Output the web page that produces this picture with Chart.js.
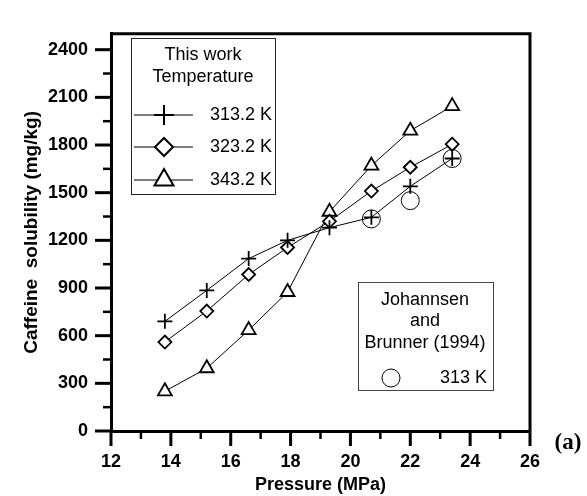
<!DOCTYPE html>
<html>
<head>
<meta charset="utf-8">
<script src="https://cdn.jsdelivr.net/npm/chart.js@4.4.1/dist/chart.umd.min.js"></script>
<style>
  body { margin: 0; background: #fff; }
  #wrap { width: 587px; height: 496px; }
</style>
</head>
<body>
<div id="wrap"><canvas id="grafica" width="587" height="496"></canvas></div>
<script>
// pressure (MPa) for this work
const presion = [13.8, 15.2, 16.6, 17.9, 19.3, 20.7, 22.0, 23.4];
// caffeine solubility (mg/kg)
const sol313 = [690, 885, 1085, 1200, 1280, 1345, 1540, 1715];
const sol323 = [560, 755, 985, 1155, 1320, 1510, 1660, 1805];
const sol343 = [250, 395, 635, 875, 1380, 1670, 1890, 2045];
// Johannsen and Brunner (1994), 313 K
const presionJB = [20.7, 22.0, 23.4];
const solJB = [1335, 1450, 1715];

const etiquetas = ["313.2 K", "323.2 K", "343.2 K"];
const ticksX = [12, 14, 16, 18, 20, 22, 24, 26];
const ticksY = [0, 300, 600, 900, 1200, 1500, 1800, 2100, 2400];

const FONT = "'Liberation Sans', Arial, sans-serif";

function puntos(xs, ys) {
    return xs.map((x, i) => ({ x: x, y: ys[i] }));
}

function serie(label, ys, estilo, radio) {
    return {
        label: label,
        data: puntos(presion, ys),
        showLine: true,
        borderColor: "#000",
        borderWidth: 1,
        tension: 0,
        pointStyle: estilo,
        pointRadius: radio,
        pointBorderWidth: 1.8,
        pointBorderColor: "#000",
        pointBackgroundColor: "#fff"
    };
}

const marco = {
    id: "marco",
    afterDatasetsDraw(chart) {
        const ctx = chart.ctx;
        const a = chart.chartArea;
        const sx = chart.scales.x;
        const sy = chart.scales.y;
        ctx.save();
        ctx.strokeStyle = "#000";
        ctx.lineCap = "butt";

        // top and right frame
        ctx.lineWidth = 3;
        ctx.beginPath();
        ctx.moveTo(a.left, a.top);
        ctx.lineTo(a.right, a.top);
        ctx.lineTo(a.right, a.bottom);
        ctx.stroke();

        // x tick marks (major every 2, minor every 1)
        for (let v = 12; v <= 26; v++) {
            const px = sx.getPixelForValue(v);
            const mayor = v % 2 === 0;
            ctx.lineWidth = mayor ? 3 : 2.5;
            ctx.beginPath();
            ctx.moveTo(px, a.bottom);
            ctx.lineTo(px, a.bottom + (mayor ? 15 : 8));
            ctx.stroke();
        }
        // y tick marks (major every 300, minor every 150)
        for (let v = 0; v <= 2400; v += 150) {
            const py = sy.getPixelForValue(v);
            const mayor = v % 300 === 0;
            ctx.lineWidth = mayor ? 3 : 2.5;
            ctx.beginPath();
            ctx.moveTo(a.left, py);
            ctx.lineTo(a.left - (mayor ? 16 : 8), py);
            ctx.stroke();
        }

        // legend: this work
        ctx.lineWidth = 1;
        ctx.strokeStyle = "#222";
        ctx.strokeRect(131.5, 38.5, 144, 156);
        ctx.fillStyle = "#000";
        ctx.font = "18px " + FONT;
        ctx.textAlign = "center";
        ctx.textBaseline = "middle";
        ctx.fillText("This work", 203, 55);
        ctx.fillText("Temperature", 203, 77);

        const filas = [115, 147, 180];
        const estilos = [["cross", 10], ["rectRot", 9], ["triangle", 11]];
        filas.forEach((fy, i) => {
            ctx.strokeStyle = "#000";
            ctx.lineWidth = 1;
            ctx.beginPath();
            ctx.moveTo(134, fy);
            ctx.lineTo(193, fy);
            ctx.stroke();
            ctx.lineWidth = 2;
            ctx.fillStyle = "#fff";
            Chart.helpers.drawPoint(ctx, { pointStyle: estilos[i][0], radius: estilos[i][1], borderWidth: 2, rotation: 0 }, 164, fy);
            ctx.fillStyle = "#000";
            ctx.textAlign = "right";
            ctx.fillText(etiquetas[i], 272, fy);
        });

        // legend: Johannsen and Brunner
        ctx.lineWidth = 1;
        ctx.strokeStyle = "#444";
        ctx.strokeRect(358.5, 282.5, 135, 108);
        ctx.fillStyle = "#000";
        ctx.textAlign = "center";
        ctx.fillText("Johannsen", 425, 300);
        ctx.fillText("and", 425, 321);
        ctx.fillText("Brunner (1994)", 425, 343);
        ctx.strokeStyle = "#000";
        ctx.lineWidth = 1;
        ctx.fillStyle = "rgba(0,0,0,0)";
        Chart.helpers.drawPoint(ctx, { pointStyle: "circle", radius: 9, borderWidth: 1, rotation: 0 }, 391, 378);
        ctx.fillStyle = "#000";
        ctx.textAlign = "right";
        ctx.fillText("313 K", 487, 378);

        // panel letter
        ctx.font = "bold 23px 'Liberation Serif', 'Times New Roman', serif";
        ctx.textAlign = "center";
        ctx.fillText("(a)", 568, 443);
        ctx.restore();
    }
};

function iniciarGrafica() {
    const ctx = document.getElementById("grafica");

    new Chart(ctx, {
        type: "scatter",
        data: {
            datasets: [
                serie(etiquetas[0], sol313, "cross", 7.5),
                serie(etiquetas[1], sol323, "rectRot", 6.5),
                serie(etiquetas[2], sol343, "triangle", 8),
                {
                    label: "313 K",
                    data: puntos(presionJB, solJB),
                    showLine: false,
                    pointStyle: "circle",
                    pointRadius: 9,
                    pointBorderWidth: 1,
                    pointBorderColor: "#000",
                    pointBackgroundColor: "rgba(0,0,0,0)"
                }
            ]
        },
        options: {
            responsive: false,
            animation: false,
            layout: { padding: { top: 13, right: 57, bottom: 0, left: 0 } },
            plugins: {
                legend: { display: false },
                tooltip: { enabled: false }
            },
            scales: {
                x: {
                    type: "linear",
                    min: 12,
                    max: 26,
                    afterBuildTicks: s => { s.ticks = ticksX.map(v => ({ value: v })); },
                    afterFit: s => { s.height = 65; },
                    grid: { display: false, drawTicks: false },
                    border: { display: true, width: 3, color: "#000" },
                    ticks: {
                        padding: 20,
                        color: "#000",
                        font: { family: FONT, size: 18, weight: "bold" },
                        maxRotation: 0,
                        callback: v => String(v)
                    },
                    title: {
                        display: true,
                        text: "Pressure (MPa)",
                        color: "#000",
                        font: { family: FONT, size: 18, weight: "bold" },
                        padding: { top: 0, bottom: 0 }
                    }
                },
                y: {
                    min: 0,
                    max: 2500,
                    afterBuildTicks: s => { s.ticks = ticksY.map(v => ({ value: v })); },
                    afterFit: s => { s.width = 111; },
                    grid: { display: false, drawTicks: false },
                    border: { display: true, width: 3, color: "#000" },
                    ticks: {
                        padding: 23,
                        color: "#000",
                        font: { family: FONT, size: 18, weight: "bold" },
                        callback: v => String(v)
                    },
                    title: {
                        display: true,
                        text: "Caffeine  solubility (mg/kg)",
                        color: "#000",
                        font: { family: FONT, size: 19, weight: "bold" },
                        padding: { top: 20, bottom: 0 }
                    }
                }
            }
        },
        plugins: [marco]
    });
}

window.onload = () => {
    iniciarGrafica();
};
</script>
</body>
</html>
